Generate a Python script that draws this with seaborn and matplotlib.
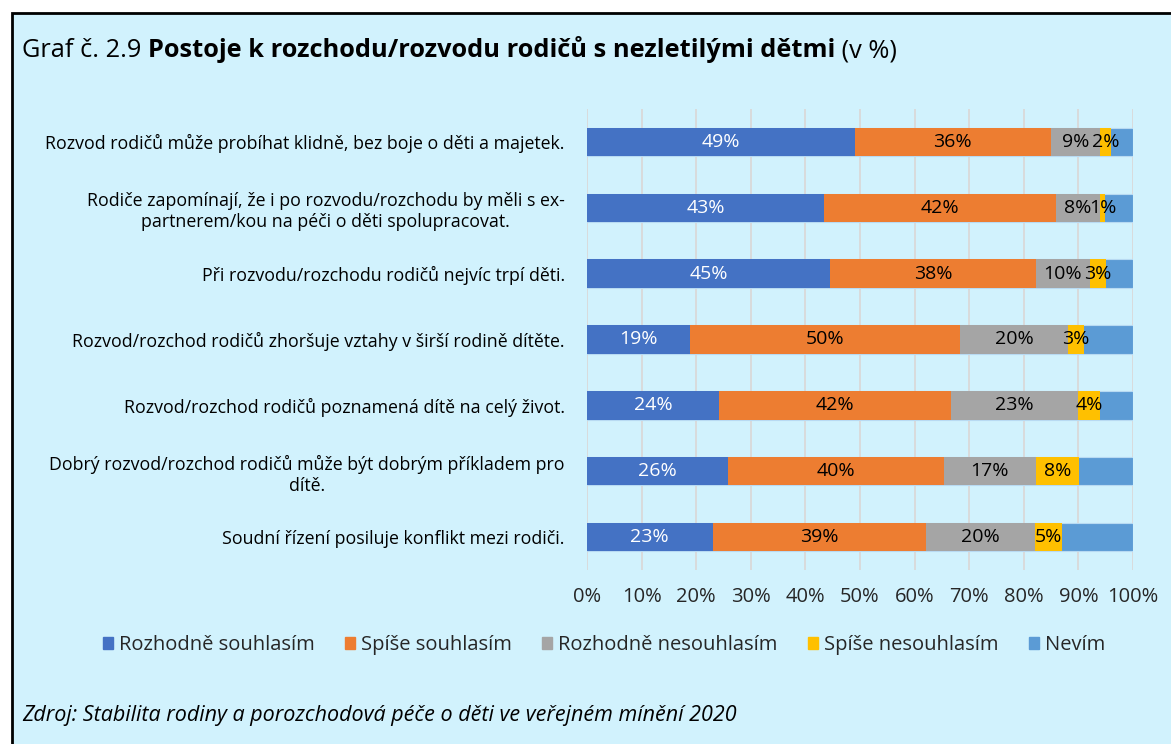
import matplotlib
matplotlib.use("Agg")
import matplotlib.pyplot as plt
import matplotlib.patches as mpatches
import seaborn as sns
import numpy as np

categories = [
    "Rozvod rodičů může probíhat klidně, bez boje o děti a majetek.",
    "Rodiče zapomínají, že i po rozvodu/rozchodu by měli s ex-\npartnerem/kou na péči o děti spolupracovat.",
    "Při rozvodu/rozchodu rodičů nejvíc trpí děti.",
    "Rozvod/rozchod rodičů zhoršuje vztahy v širší rodině dítěte.",
    "Rozvod/rozchod rodičů poznamená dítě na celý život.",
    "Dobrý rozvod/rozchod rodičů může být dobrým příkladem pro\ndítě.",
    "Soudní řízení posiluje konflikt mezi rodiči.",
]
series_names = ["Rozhodně souhlasím", "Spíše souhlasím", "Rozhodně nesouhlasím",
                "Spíše nesouhlasím", "Nevím"]
rozhodne_souhlasim = [49, 43, 45, 19, 24, 26, 23]
spise_souhlasim = [36, 42, 38, 50, 42, 40, 39]
rozhodne_nesouhlasim = [9, 8, 10, 20, 23, 17, 20]
spise_nesouhlasim = [2, 1, 3, 3, 4, 8, 5]
nevim = [4, 5, 5, 9, 6, 10, 13]
x_ticks = [0, 10, 20, 30, 40, 50, 60, 70, 80, 90, 100]

colors = ["#4472C4", "#ED7D31", "#A5A5A5", "#FFC000", "#5B9BD5"]
label_colors = ["white", "black", "black", "black", None]
BG = "#D1F2FD"
FONT = ["Open Sans", "DejaVu Sans"]

sns.set_theme(style="white")
plt.rcParams["font.family"] = FONT

W, H = 1171, 744
fig = plt.figure(figsize=(W / 100, H / 100), dpi=100, facecolor="white")

# background panel with black frame (left & top visible)
panel = mpatches.Rectangle((11.5 / W, -0.05), 1.1, 1 - 12.5 / H + 0.05,
                           transform=fig.transFigure, facecolor=BG,
                           edgecolor="black", linewidth=2.0, zorder=-10)
fig.patches.append(panel)

ax = fig.add_axes([587 / W, 1 - 570 / H, (1133 - 587) / W, (570 - 109) / H])
ax.set_facecolor("none")

data = np.array([rozhodne_souhlasim, spise_souhlasim, rozhodne_nesouhlasim,
                 spise_nesouhlasim, nevim], dtype=float)
totals = data.sum(axis=0)
shares = data / totals * 100
cum = np.cumsum(shares, axis=0)

for i in range(len(series_names) - 1, -1, -1):
    sns.barplot(x=cum[i], y=categories, orient="h", color=colors[i],
                width=0.43, ax=ax, saturation=1,
                edgecolor="#B8DAF2" if i == 4 else "none",
                linewidth=0.8 if i == 4 else 0, zorder=3)

# data labels
for i in range(4):
    starts = cum[i] - shares[i]
    for j in range(len(categories)):
        ax.text(starts[j] + shares[i][j] / 2, j, f"{data[i][j]:.0f}%",
                ha="center", va="center", color=label_colors[i],
                fontsize=14, zorder=5)

ax.set_xlim(0, 100)
ax.set_xticks(x_ticks)
ax.set_xticklabels([f"{t}%" for t in x_ticks], fontsize=14.5, color="#262626")
ax.tick_params(axis="x", length=0, pad=12)
ax.tick_params(axis="y", length=0, pad=16)
for lab in ax.get_yticklabels():
    lab.set_multialignment("center")
    lab.set_fontsize(12.8)
    lab.set_color("black")
ax.set_xlabel("")
ax.set_ylabel("")
for s in ax.spines.values():
    s.set_visible(False)
ax.grid(axis="x", color="#D9D9D9", linewidth=1.3, zorder=0)
ax.set_axisbelow(True)

# legend
handles = [mpatches.Patch(color=c, label=n) for c, n in zip(colors, series_names)]
fig.legend(handles=handles, loc="center", bbox_to_anchor=(604 / W, 1 - 645 / H),
           ncol=5, frameon=False, fontsize=14.5, handlelength=0.5,
           handleheight=0.5, handletextpad=0.3, columnspacing=1.5)

# title in pieces, on a common baseline
fig.canvas.draw()
renderer = fig.canvas.get_renderer()
x = 22 / W
y = 1 - 57 / H
parts = [("Graf č. 2.9 ", "normal"),
         ("Postoje k rozchodu/rozvodu rodičů s nezletilými dětmi", "bold"),
         (" (v %)", "normal")]
for txt, wt in parts:
    t = fig.text(x, y, txt, fontsize=18.3, fontweight=wt, ha="left",
                 va="baseline", color="black")
    bb = t.get_window_extent(renderer=renderer)
    x += bb.width / W

fig.text(22 / W, 1 - 716 / H,
         "Zdroj: Stabilita rodiny a porozchodová péče o děti ve veřejném mínění 2020",
         fontsize=15.5, style="italic", ha="left", va="center", color="black")

fig.savefig("out.png", dpi=100, facecolor="white")
